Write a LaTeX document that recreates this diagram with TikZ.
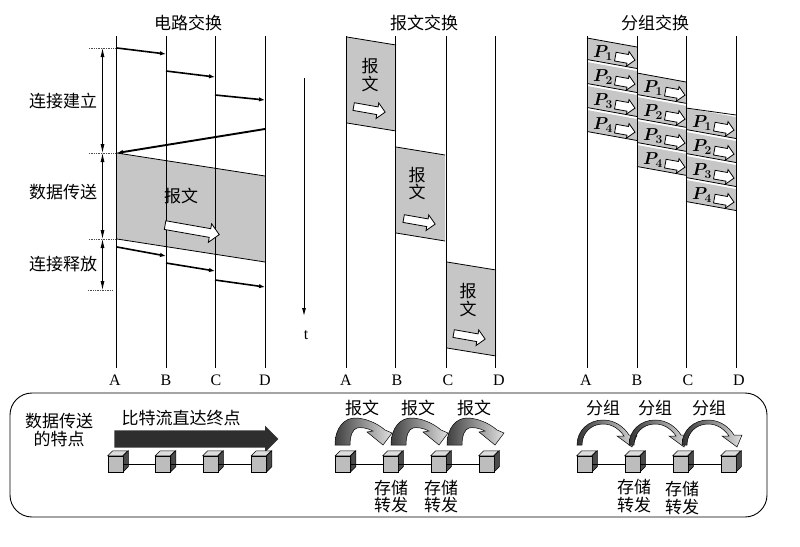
\documentclass[tikz,border=0pt]{standalone}
\usepackage{fontspec}
\setmainfont{Liberation Serif}
\newfontfamily\cjk{Noto Sans CJK SC}
\usetikzlibrary{arrows.meta,shapes.arrows}
\definecolor{bandgray}{HTML}{C6C6C6}
\definecolor{cubeface}{HTML}{BDBDBD}
\definecolor{cubetop} {HTML}{DDDDDD}
\definecolor{cubeside}{HTML}{4A4A4A}
\definecolor{flowdark}{HTML}{2E2E2E}
\newcommand{\lifeline}[4]{%
  \coordinate (#1top) at (#2,36);
  \coordinate (#1bot) at (#2,368);
  \node[axislbl] (#1lbl) at (#3,380) {#4};
  \draw[life] (#1top) -- (#1bot);
}
\newcommand{\router}[2]{%
  \node[cubefront] (#1) at (#2,464) {};
  \filldraw[fill=cubetop,line width=.5pt] (#1.north west) -- ++(5,-5) -- ++(15,0)
    -- ++(-5,5) -- cycle;
  \filldraw[fill=cubeside,line width=.5pt] (#1.north east) -- ++(5,-5) -- ++(0,16)
    -- ++(-5,5) -- cycle;
}
\newcommand{\pkt}[4]{%
  \fill[bandgray] (#2,#3) -- ++(50,9) -- ++(0,21.5) -- ++(-50,-9) -- cycle;
  \draw[bandedge] (#2,#3+21.5) -- ++(50,9);
  \node[pktlbl] (#1lbl) at (#2+16,#3+15) {$P_{#4}$};
  \node[minarrow] (#1arr) at (#2+36,#3+20) {};
}
\newcommand{\msgbox}[2]{%
  \fill[bandgray] (#1,#2) -- ++(49,8) -- ++(0,86) -- ++(-49,-8) -- cycle;
  \draw[bandedge] (#1,#2) -- ++(49,8);
  \draw[bandedge] (#1,#2+86) -- ++(49,8);
}
\newcommand{\hopmsg}[1]{%
  \shade[left color=black!75,right color=black!12,draw=black,line width=.5pt]
    (#1,445) .. controls (#1,427) and (#1+10,418) .. (#1+20,418)
    .. controls (#1+30,418) and (#1+42,423) .. (#1+50,430)
    -- (#1+57,433) -- (#1+48,445) -- (#1+32,432) -- (#1+38,431)
    .. controls (#1+32,428) and (#1+26,427) .. (#1+22,428)
    .. controls (#1+18,429) and (#1+15,435) .. (#1+15,445) -- cycle;
}
\newcommand{\hoppkt}[1]{%
  \shade[left color=black!80,right color=black!12,draw=black,line width=.5pt]
    (#1,445) .. controls (#1,430) and (#1+12,420) .. (#1+26,420)
    .. controls (#1+38,420) and (#1+47,427) .. (#1+52,435)
    -- (#1+60,435) -- (#1+55,447) -- (#1+40,436) -- (#1+47,436)
    .. controls (#1+43,430) and (#1+36,424) .. (#1+26,424)
    .. controls (#1+14,424) and (#1+5,433) .. (#1+5,445) -- cycle;
}

\begin{document}
\begin{tikzpicture}[
  x=1pt, y=-1pt,
  cn/.style={font=\cjk\fontsize{17}{17.5}\selectfont,inner sep=0pt,align=center},
  axislbl/.style={font=\fontsize{16}{18}\selectfont,inner sep=0pt},
  life/.style={line width=.9pt},
  hop/.style={-{Latex[length=6pt,width=4.5pt]},line width=1.6pt},
  span/.style={{Latex[length=9pt,width=4pt]}-{Latex[length=9pt,width=4pt]},line width=.8pt},
  guide/.style={densely dotted,line width=.7pt,black!70},
  bandedge/.style={line width=.8pt},
  bigarrow/.style={single arrow,draw=black,fill=white,line width=.8pt,inner sep=0pt,
                   text height=8pt,text depth=0pt,text width=0pt,
                   minimum height=55pt,minimum width=18pt,single arrow head extend=5pt,
                   single arrow head indent=0pt,rotate=-10},
  midarrow/.style={bigarrow,text height=7pt,minimum height=32pt,minimum width=15pt,single arrow head extend=4pt},
  minarrow/.style={bigarrow,text height=8pt,minimum height=20pt,minimum width=14pt,single arrow head extend=3pt},
  pktlbl/.style={font=\boldmath\fontsize{18}{19}\selectfont,inner sep=0pt},
  flow/.style={single arrow,fill=flowdark,inner sep=0pt,text height=17pt,text depth=0pt,text width=0pt,
               minimum height=164pt,minimum width=26pt,
               single arrow head extend=4.5pt,single arrow head indent=0pt},
  cubefront/.style={draw,fill=cubeface,line width=.5pt,inner sep=0pt,minimum width=15pt,minimum height=16pt},
  link/.style={line width=.8pt}
]
\useasboundingbox (0,0) rectangle (800,546);

%% Titles
\node[cn] (titlecircuit) at (188,23) {电路交换};
\node[cn] (titlemsg)     at (424,23) {报文交换};
\node[cn] (titlepkt)     at (655,23) {分组交换};

%% Circuit switching: shaded data band
\fill[bandgray] (117,153) -- (265,176) -- (265,262) -- (117,239) -- cycle;
\draw[bandedge] (117,153) -- (265,176);
\draw[bandedge] (117,239) -- (265,262);

%% Message switching: three shaded blocks
\msgbox{347}{37}
\msgbox{396}{147}
\msgbox{447}{262}

%% Packet switching: column A
\pkt{pa1}{587}{38}{1}
\pkt{pa2}{587}{62}{2}
\pkt{pa3}{587}{86}{3}
\pkt{pa4}{587}{110}{4}
\draw[bandedge] (587,38) -- ++(50,9);
%% column B
\pkt{pb1}{637}{73}{1}
\pkt{pb2}{637}{97}{2}
\pkt{pb3}{637}{121}{3}
\pkt{pb4}{637}{145}{4}
\draw[bandedge] (637,73) -- ++(49,9);
%% column C
\pkt{pc1}{686}{108}{1}
\pkt{pc2}{686}{132}{2}
\pkt{pc3}{686}{156}{3}
\pkt{pc4}{686}{180}{4}
\draw[bandedge] (686,108) -- ++(50,7);

%% Lifelines
\lifeline{ca}{116.5}{115}{A}
\lifeline{cb}{166}{166}{B}
\lifeline{cc}{215}{216}{C}
\lifeline{cd}{265}{265}{D}
\lifeline{ma}{346.5}{346}{A}
\lifeline{mb}{395.5}{397}{B}
\lifeline{mc}{446}{448}{C}
\lifeline{md}{495.5}{499}{D}
\lifeline{pa}{587}{586}{A}
\lifeline{pb}{637}{637}{B}
\lifeline{pc}{686}{688}{C}
\lifeline{pd}{736}{739}{D}

%% Connection set-up
\coordinate (s1a) at (117,48);  \coordinate (s1b) at (166,54);
\coordinate (s2a) at (166,71);  \coordinate (s2b) at (215,77);
\coordinate (s3a) at (215,95);  \coordinate (s3b) at (265,100);
\coordinate (s4a) at (265,129); \coordinate (s4b) at (117,153);
\draw[hop] (s1a) -- (s1b);
\draw[hop] (s2a) -- (s2b);
\draw[hop] (s3a) -- (s3b);
\draw[hop,line width=1.9pt] (s4a) -- (s4b);

%% Connection release
\coordinate (r1a) at (117,247); \coordinate (r1b) at (166,256);
\coordinate (r2a) at (166,263); \coordinate (r2b) at (215,271);
\coordinate (r3a) at (215,280); \coordinate (r3b) at (265,287);
\draw[hop] (r1a) -- (r1b);
\draw[hop] (r2a) -- (r2b);
\draw[hop] (r3a) -- (r3b);

%% Phase spans on the left
\coordinate (g1a) at (89,48);  \coordinate (g1b) at (115,48);
\coordinate (g2a) at (89,153); \coordinate (g2b) at (115,153);
\coordinate (g3a) at (89,239); \coordinate (g3b) at (115,239);
\coordinate (g4a) at (88,290); \coordinate (g4b) at (113,290);
\draw[guide] (g1a) -- (g1b);
\draw[guide] (g2a) -- (g2b);
\draw[guide] (g3a) -- (g3b);
\draw[guide] (g4a) -- (g4b);
\coordinate (d1) at (102.5,48);
\coordinate (d2) at (102.5,153);
\coordinate (d3) at (102.5,239);
\coordinate (d4) at (102.5,290);
\draw[span] (d1) -- (d2);
\draw[span] (d2) -- (d3);
\draw[span] (d3) -- (d4);
\node[cn] (setup)   at (63,101) {连接建立};
\node[cn] (data)    at (63,192) {数据传送};
\node[cn] (release) at (63,264) {连接释放};

%% Circuit switching: band label
\node[cn] (bandtxt) at (181,196) {报文};
\node[bigarrow] (bandarr) at (190,229.5) {};

%% Message blocks: text and arrows
\node[cn] (m1txt) at (370,75)  {报\\文};
\node[midarrow] (m1arr) at (367.5,109) {};
\node[cn] (m2txt) at (417,183.5) {报\\文};
\node[midarrow] (m2arr) at (417.5,221) {};
\node[cn] (m3txt) at (468,300) {报\\文};
\node[midarrow] (m3arr) at (467.5,336) {};

%% Time axis
\coordinate (t1) at (304,78);
\node[axislbl] (tlbl) at (306,335) {t};
\coordinate (t2) at (304,316);
\draw[-{Latex[length=8pt,width=4pt]},line width=.9pt] (t1) -- (t2);

%% Lower panel
\draw[line width=.9pt,rounded corners=22pt] (10,393) rectangle (767,517);
\node[cn] (feature) at (59,430) {数据传送\\的特点};

%% Bit stream
\node[cn] (flowtxt) at (181,418) {比特流直达终点};
\node[flow] (flowarr) at (192,439) {};
\router{r1}{115.5}
\router{r2}{163}
\router{r3}{210.5}
\router{r4}{259}
\draw[link] (r1) -- (r2);
\draw[link] (r2) -- (r3);
\draw[link] (r3) -- (r4);

%% Message hops
\hopmsg{335}
\hopmsg{391}
\hopmsg{447}
\node[cn] (h1txt) at (362,408) {报文};
\node[cn] (h2txt) at (418,408) {报文};
\node[cn] (h3txt) at (474,408) {报文};
\router{m1}{343}
\router{m2}{390.5}
\router{m3}{438.5}
\router{m4}{486.5}
\draw[link] (m1) -- (m2);
\draw[link] (m2) -- (m3);
\draw[link] (m3) -- (m4);
\node[cn] (m2note) at (391,496.5) {存储\\转发};
\node[cn] (m3note) at (441,496.5) {存储\\转发};

%% Packet hops
\hoppkt{577}
\hoppkt{629}
\hoppkt{682}
\node[cn] (k1txt) at (603,408) {分组};
\node[cn] (k2txt) at (655,408) {分组};
\node[cn] (k3txt) at (709,408) {分组};
\router{k1}{584.5}
\router{k2}{632.5}
\router{k3}{680.5}
\router{k4}{728.5}
\draw[link] (k1) -- (k2);
\draw[link] (k2) -- (k3);
\draw[link] (k3) -- (k4);
\node[cn] (k2note) at (634,496) {存储\\转发};
\node[cn] (k3note) at (682,498) {存储\\转发};

\end{tikzpicture}
\end{document}
